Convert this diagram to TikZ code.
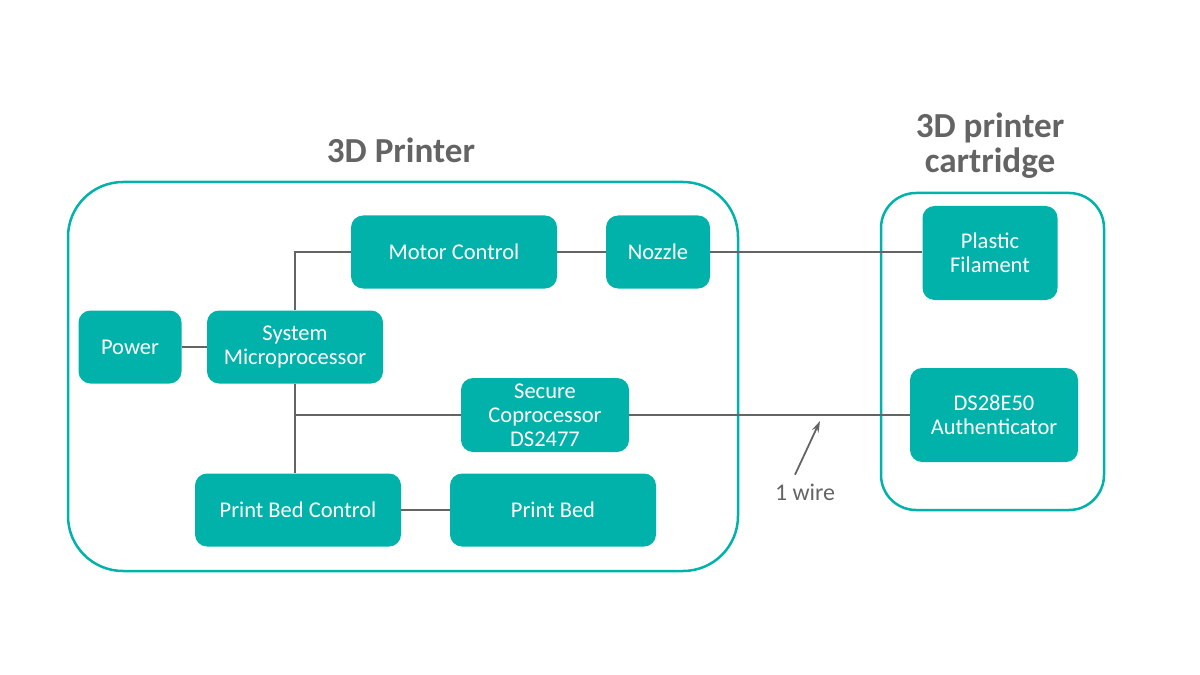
\documentclass[tikz,border=0pt]{standalone}
\usepackage{fontspec}
\setmainfont{Carlito}
\usetikzlibrary{calc, positioning, arrows.meta}

\definecolor{boxteal}{RGB}{0,178,169}
\definecolor{wiregray}{RGB}{100,100,100}

\tikzset{
  block/.style={fill=boxteal, text=white, rounded corners=12*0.025cm, align=center,
    font=\fontsize{16}{17}\selectfont, inner sep=0pt},
  frame/.style={draw=boxteal, line width=2.5*0.025cm},
  wire/.style={draw=wiregray, line width=2.5*0.025cm},
  heading/.style={text=wiregray, font=\fontsize{25}{25}\selectfont\bfseries, align=center}
}

\begin{document}
\begin{tikzpicture}[x=0.025cm, y=-0.025cm]
\useasboundingbox (0,0) rectangle (1200,675);

% Frames
\draw[frame, rounded corners=55*0.025cm] (68,182) rectangle (738,571);
\draw[frame, rounded corners=35*0.025cm] (881,193) rectangle (1104,510);
\node[heading] (printer) at (401,150) {3D Printer};
\node[heading] (cart) at (990,146) {3D printer\\cartridge};

% Blocks inside the printer
\node[block, minimum width=206*0.025cm, minimum height=73*0.025cm] (motor) at (454,252) {Motor Control};
\node[block, minimum width=104*0.025cm, minimum height=73*0.025cm] (nozzle) at (658,252) {Nozzle};
\node[block, minimum width=103*0.025cm, minimum height=73*0.025cm] (power) at (130,347) {Power};
\node[block, minimum width=176*0.025cm, minimum height=73*0.025cm] (sys) at (295,347) {System\\Microprocessor};
\node[block, minimum width=168*0.025cm, minimum height=74*0.025cm] (secure) at (545,415) {Secure\\Coprocessor\\DS2477};
\node[block, minimum width=206*0.025cm, minimum height=73*0.025cm] (bedctl) at (298,510) {Print Bed Control};
\node[block, minimum width=206*0.025cm, minimum height=73*0.025cm] (bed) at (553,510) {Print Bed};

% Blocks inside the cartridge
\node[block, minimum width=135*0.025cm, minimum height=94*0.025cm] (filament) at (990,253) {Plastic\\Filament};
\node[block, minimum width=168*0.025cm, minimum height=94*0.025cm] (auth) at (994,415) {DS28E50\\Authenticator};

% Connections
\draw[wire] (power) -- (sys);
\draw[wire] (sys.north) |- (motor.west);
\draw[wire] (sys.south) -- (sys.south |- bedctl.north);
\draw[wire] (sys.south |- secure.west) -- (secure.west);
\draw[wire] (motor) -- (nozzle);
\draw[wire] (nozzle.east) -- (nozzle.east -| filament.west);
\draw[wire] (secure) -- (auth);
\draw[wire] (bedctl) -- (bed);

% 1 wire label
\node[text=wiregray, font=\fontsize{17}{18}\selectfont] (onewire) at (805,492) {1 wire};
\coordinate (wiretip) at (820,421);
\draw[wire, line width=1.8*0.025cm, -{Stealth[length=8pt, width=5pt]}] ($(onewire.north)+(-10,-4)$) -- (wiretip);
\end{tikzpicture}
\end{document}
